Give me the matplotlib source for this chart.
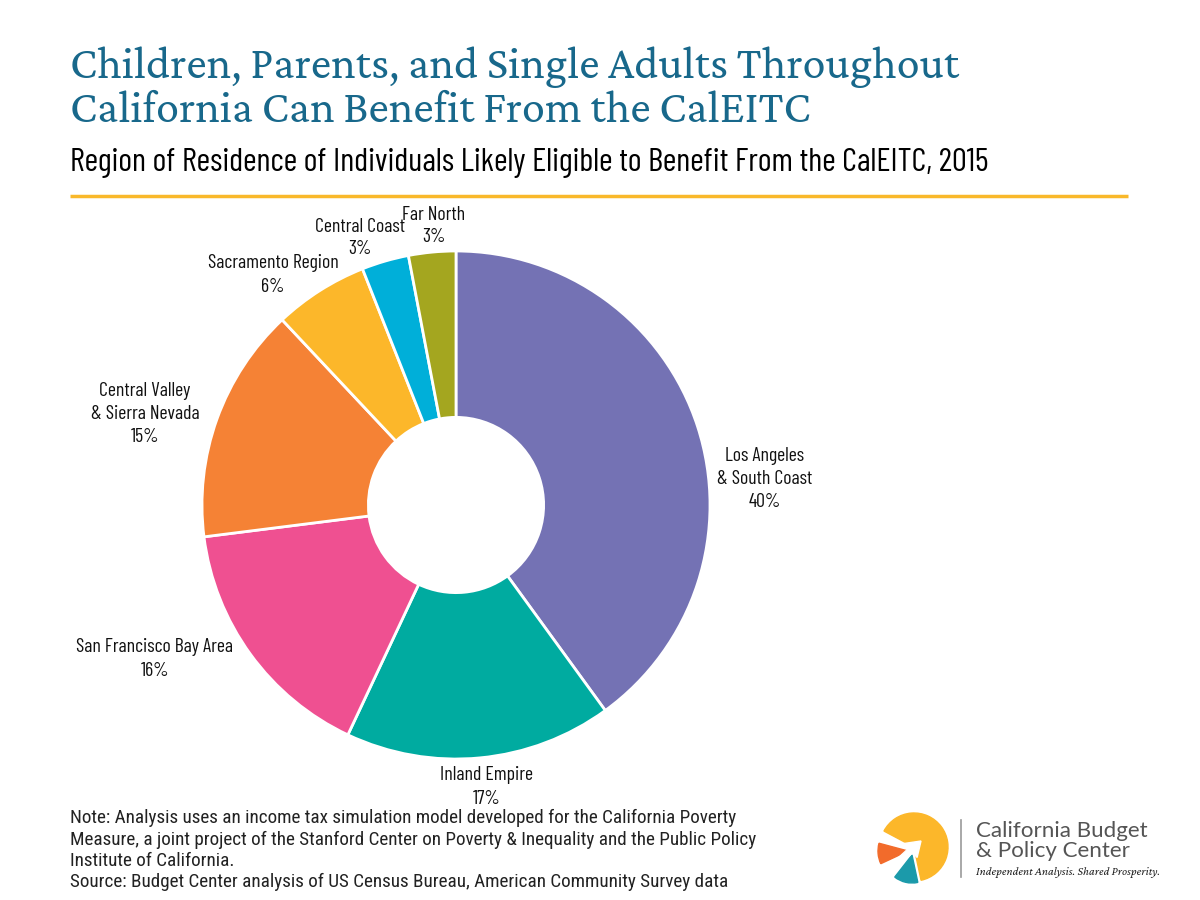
import matplotlib
matplotlib.use('Agg')
import matplotlib.pyplot as plt
import matplotlib.patches as patches
import logging

logging.getLogger('matplotlib.font_manager').setLevel(logging.ERROR)

# data
regions = ['Los Angeles\n& South Coast', 'Inland Empire', 'San Francisco Bay Area',
           'Central Valley\n& Sierra Nevada', 'Sacramento Region', 'Central Coast', 'Far North']
shares = [40, 17, 16, 15, 6, 3, 3]
colors = ['#7472b4', '#00aba0', '#ef5091', '#f58235', '#fcb72a', '#00afd9', '#a4a61f']

title_lines = ['Children, Parents, and Single Adults Throughout',
               'California Can Benefit From the CalEITC']
subtitle = 'Region of Residence of Individuals Likely Eligible to Benefit From the CalEITC, 2015'
note_lines = ['Note: Analysis uses an income tax simulation model developed for the California Poverty',
              'Measure, a joint project of the Stanford Center on Poverty & Inequality and the Public Policy',
              'Institute of California.',
              'Source: Budget Center analysis of US Census Bureau, American Community Survey data']

narrow = ['Barlow Condensed', 'Roboto Condensed', 'PT Sans Narrow', 'IBM Plex Sans Condensed', 'DejaVu Sans']
note_font = ['Roboto Condensed', 'IBM Plex Sans Condensed', 'DejaVu Sans']
serif = ['Crimson Pro', 'Crimson Text', 'EB Garamond', 'Liberation Serif', 'DejaVu Serif']
logo_sans = ['Lato', 'DejaVu Sans']

fig = plt.figure(figsize=(12, 9), dpi=100)
ax = fig.add_axes([0, 0, 1, 1])
renderer = fig.canvas.get_renderer()


def py(y):
    # pixel row from top -> data y
    return 900 - y


def fit(t, width):
    # scale font so the text is `width` pixels wide
    w = t.get_window_extent(renderer).width
    t.set_fontsize(t.get_fontsize() * width / w)
    return t.get_fontsize()


# pie
cx, cy, r = 456, py(505), 254
explode = [0, 0, 0.015, 0, 0, 0, 0]
wedges, _ = ax.pie(shares, colors=colors, startangle=90, counterclock=False,
                   center=(cx, cy), radius=r, explode=explode,
                   wedgeprops=dict(width=r * 0.655, edgecolor='white', linewidth=2))
ax.set_aspect('equal')
ax.set_xlim(0, 1200)
ax.set_ylim(0, 900)
ax.axis('off')

# label centres (pixels), lines 23 px apart
label_pos = [(765, 477), (487, 785), (155, 657), (145, 412), (273, 273), (360, 236), (434, 224)]
probe = ax.text(0, 0, 'San Francisco Bay Area', fontsize=12, family=narrow)
lab_fs = fit(probe, 157)
probe.remove()
for name, val, (x, y) in zip(regions, shares, label_pos):
    lines = name.split('\n') + [f'{val}%']
    n = len(lines)
    for i, line in enumerate(lines):
        ly = y + (i - (n - 1) / 2) * 23
        ax.text(x, py(ly), line, ha='center', va='center_baseline', fontsize=lab_fs,
                family=narrow, color='#111111')

# titles
t1 = fig.text(70 / 1200, 1 - 78 / 900, title_lines[0], ha='left', va='baseline', fontsize=30,
              family=serif, weight='semibold', color='#18688b')
tfs = fit(t1, 888)
fig.text(70 / 1200, 1 - 122 / 900, title_lines[1], ha='left', va='baseline', fontsize=tfs,
         family=serif, weight='semibold', color='#18688b')
st = fig.text(70 / 1200, 1 - 171 / 900, subtitle, ha='left', va='baseline', fontsize=20,
              family=narrow, color='#000000')
fit(st, 920)
ax.plot([70, 1128], [py(196), py(196)], color='#f9b82a', linewidth=2.5,
        solid_capstyle='butt')

# note
base = [823, 845, 866, 887]
src = fig.text(70 / 1200, 1 - base[3] / 900, note_lines[3], ha='left', va='baseline',
               fontsize=11, family=note_font, color='#222222')
nfs = fit(src, 658)
for line, y in zip(note_lines[:3], base[:3]):
    fig.text(70 / 1200, 1 - y / 900, line, ha='left', va='baseline', fontsize=nfs,
             family=note_font, color='#222222')

# logo
lx, ly, lr = 914, py(847), 34
ax.add_patch(patches.Wedge((lx, ly), lr, -78, 152, color='#fcb72a'))
ax.add_patch(patches.Wedge((lx - 6, ly - 4), lr - 4, 165, 205, color='#f26b2b'))
ax.add_patch(patches.Wedge((lx - 2, ly - 8), lr - 6, 232, 282, color='#1b9aaa'))
ax.add_patch(patches.FancyArrow(lx - 30, ly - 28, 37, 34, width=6, head_width=19,
                                head_length=14, color='white', length_includes_head=True))
ax.plot([961, 961], [py(820), py(877)], color='#999999', linewidth=1.2)
c1 = fig.text(976 / 1200, 1 - 837 / 900, 'California Budget', ha='left', va='baseline',
              fontsize=13.5, family=logo_sans, color='#555555')
lfs = fit(c1, 172)
fig.text(976 / 1200, 1 - 857 / 900, '& Policy Center', ha='left', va='baseline',
         fontsize=lfs, family=logo_sans, color='#555555')
tag = fig.text(976 / 1200, 1 - 875 / 900, 'Independent Analysis. Shared Prosperity.', ha='left',
               va='baseline', fontsize=8, style='italic', family=serif, color='#222222')
fit(tag, 184)

fig.savefig('out.png', dpi=100, facecolor='white')
